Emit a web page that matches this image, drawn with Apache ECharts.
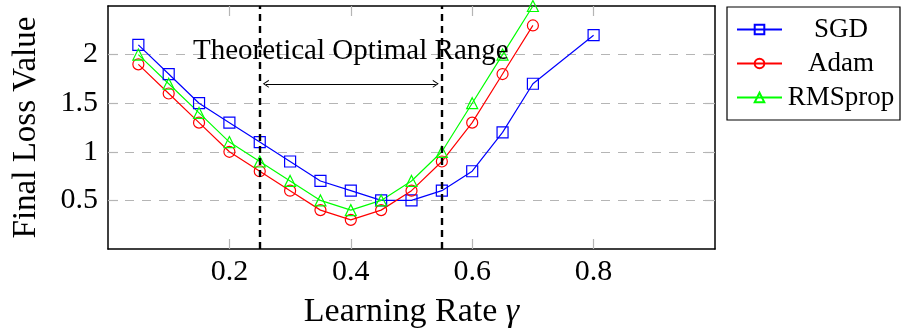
<!DOCTYPE html>
<html>
<head>
<meta charset="utf-8">
<script src="https://cdn.jsdelivr.net/npm/echarts@6/dist/echarts.min.js"></script>
<style>html,body{margin:0;padding:0;background:#fff;}#c{width:902px;height:335px;}</style>
</head>
<body>
<div id="c"></div>
<script>
const learningRates = [0.05,0.1,0.15,0.2,0.25,0.3,0.35,0.4,0.45,0.5,0.55,0.6,0.65,0.7,0.8];
const sgdLoss     = [2.1,1.8,1.5,1.3,1.1,0.9,0.7,0.6,0.5,0.5,0.6,0.8,1.2,1.7,2.2];
const adamRates   = [0.05,0.1,0.15,0.2,0.25,0.3,0.35,0.4,0.45,0.5,0.55,0.6,0.65,0.7];
const adamLoss    = [1.9,1.6,1.3,1.0,0.8,0.6,0.4,0.3,0.4,0.6,0.9,1.3,1.8,2.3];
const rmsRates    = [0.05,0.1,0.15,0.2,0.25,0.3,0.35,0.4,0.45,0.5,0.55,0.6,0.65,0.7];
const rmsLoss     = [2.0,1.7,1.4,1.1,0.9,0.7,0.5,0.4,0.5,0.7,1.0,1.5,2.0,2.5];
const xTicks = [0.2,0.4,0.6,0.8];
const yTicks = [0.5,1,1.5,2];
const rangeBounds = [0.25,0.55];
const arrowSpan = [0.26,0.54];
const arrowY = 1.7;
const annotation = {text:'Theoretical Optimal Range', x:0.4, y:2.03};

const FF = 'Liberation Serif';
const chevron = 'path://M0,10 L5,0 L10,10 L8.6,10 L5,2.8 L1.4,10 Z';
function pairs(xs, ys){ return xs.map((x,i)=>[x, ys[i]]); }
function mkSeries(name, color, symbol, xs, ys){
  return {
    name, type:'line', data:pairs(xs,ys), symbol, symbolSize:11,
    lineStyle:{color, width:1.2},
    itemStyle:{color:'rgba(255,255,255,0)', borderColor:color, borderWidth:1.2},
    emphasis:{disabled:true}, animation:false, z:3
  };
}
const chart = echarts.init(document.getElementById('c'), null, {renderer:'canvas'});
const tickStyle = {show:true, inside:true, length:10, lineStyle:{color:'#b5b5b5', width:1.2}};
const series = [
  mkSeries('SGD','#0000ff','rect',learningRates,sgdLoss),
  mkSeries('Adam','#ff0000','circle',adamRates,adamLoss),
  mkSeries('RMSprop','#00ff00','triangle',rmsRates,rmsLoss)
];
series[0].markLine = {
  silent:true, animation:false, symbol:['none','none'], label:{show:false},
  lineStyle:{color:'#000', width:2.4, type:[7,5]},
  data: rangeBounds.map(v=>({xAxis:v}))
};
series[1].markLine = {
  silent:true, animation:false, symbol:[chevron, chevron], symbolSize:[8,6], label:{show:false},
  lineStyle:{color:'#000', width:1, type:'solid'},
  data:[[{coord:[arrowSpan[0],arrowY]},{coord:[arrowSpan[1],arrowY]}]]
};
series[2].markPoint = {
  silent:true, animation:false, symbol:'rect', symbolSize:0,
  label:{show:true, position:'inside', formatter:annotation.text, fontFamily:FF, fontSize:29, color:'#000'},
  data:[{coord:[annotation.x, annotation.y]}]
};
chart.setOption({
  animation:false,
  backgroundColor:'#fff',
  grid:{left:108, right:187, top:6, bottom:86, containLabel:false},
  legend:{
    data:['SGD','Adam','RMSprop'], orient:'vertical', left:727, top:7,
    padding:[9,5,9,9], itemGap:7, itemWidth:45, itemHeight:12,
    borderColor:'#000', borderWidth:1.2, backgroundColor:'#fff',
    formatter: n => '{c|'+n+'}',
    textStyle:{fontFamily:FF, fontSize:27, color:'#000', rich:{c:{width:108, align:'center', fontFamily:FF, fontSize:27, lineHeight:27}}}
  },
  xAxis:[{
    type:'value', min:0, max:1, interval:0.2, position:'bottom',
    name:'{a|Learning Rate }{g|γ}', nameLocation:'middle', nameGap:46,
    nameTextStyle:{rich:{a:{fontFamily:FF,fontSize:34,color:'#000'},g:{fontFamily:FF,fontSize:34,fontStyle:'italic',color:'#000'}}},
    axisLine:{show:true, onZero:false, lineStyle:{color:'#000', width:1.5}},
    axisTick:Object.assign({customValues:xTicks}, tickStyle),
    axisLabel:{customValues:xTicks, fontFamily:FF, fontSize:30, color:'#000', margin:8},
    splitLine:{show:false}
  },{
    type:'value', min:0, max:1, interval:0.2, position:'top',
    axisLine:{show:true, onZero:false, lineStyle:{color:'#000', width:1.5}},
    axisTick:Object.assign({customValues:xTicks}, tickStyle),
    axisLabel:{show:false}, splitLine:{show:false}
  }],
  yAxis:[{
    type:'value', min:0, max:2.5, interval:0.5, position:'left',
    name:'Final Loss Value', nameLocation:'middle', nameGap:65,
    nameTextStyle:{fontFamily:FF, fontSize:33, color:'#000'},
    axisLine:{show:true, onZero:false, lineStyle:{color:'#000', width:1.5}},
    axisTick:Object.assign({customValues:yTicks}, tickStyle),
    axisLabel:{customValues:yTicks, fontFamily:FF, fontSize:30, color:'#000', margin:10, formatter:v=>String(v)},
    splitLine:{show:true, lineStyle:{color:'#b5b5b5', width:1.2, type:[9,8]}}
  },{
    type:'value', min:0, max:2.5, interval:0.5, position:'right',
    axisLine:{show:true, onZero:false, lineStyle:{color:'#000', width:1.5}},
    axisTick:Object.assign({customValues:yTicks}, tickStyle),
    axisLabel:{show:false}, splitLine:{show:false}
  }],
  series
});
</script>
</body>
</html>
